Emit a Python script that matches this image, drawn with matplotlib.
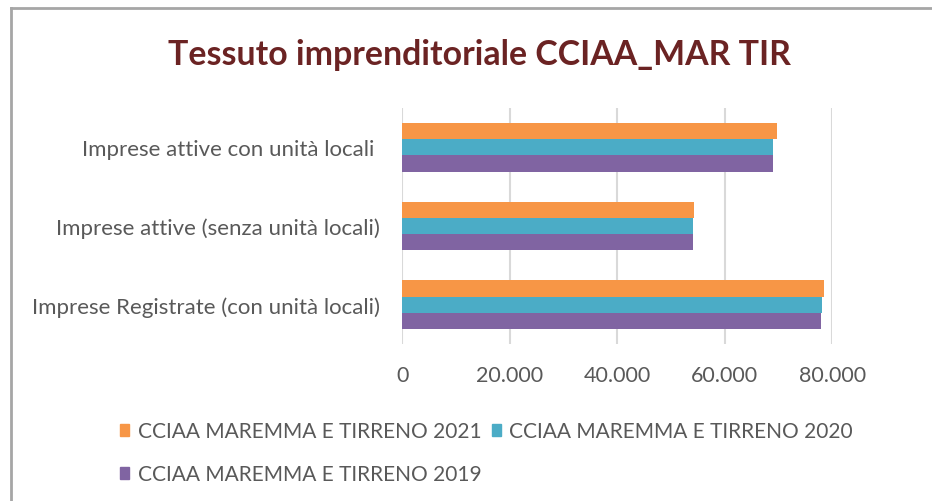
import matplotlib.pyplot as plt
import numpy as np
from matplotlib.patches import Patch
from matplotlib.lines import Line2D

# Data
categories = ["Imprese Registrate (con unità locali)",
              "Imprese attive (senza unità locali)",
              "Imprese attive con unità locali "]
v2021 = [78500, 54300, 69700]
v2020 = [78100, 54000, 69000]
v2019 = [77900, 54100, 69000]
series = ["CCIAA MAREMMA E TIRRENO 2021", "CCIAA MAREMMA E TIRRENO 2020",
          "CCIAA MAREMMA E TIRRENO 2019"]
ticks = [0, 20000, 40000, 60000, 80000]
tick_labels = ["0", "20.000", "40.000", "60.000", "80.000"]

colors = ["#F79646", "#4BACC6", "#8064A2"]
text_col = "#595959"

plt.rcParams['font.family'] = ['Lato', 'DejaVu Sans']

fig = plt.figure(figsize=(9.32, 5.02), dpi=100)
ax = fig.add_axes([402.3 / 932, 1 - 345 / 502, 430 / 932, 236 / 502])

y = np.arange(len(categories))
h = 0.207
ax.barh(y + h, v2021, height=h, color=colors[0], label=series[0], zorder=3)
ax.barh(y, v2020, height=h, color=colors[1], label=series[1], zorder=3)
ax.barh(y - h, v2019, height=h, color=colors[2], label=series[2], zorder=3)

ax.set_xlim(0, 80000)
ax.set_ylim(-0.5, 2.5)
ax.set_xticks(ticks)
ax.set_xticklabels(tick_labels)
ax.set_yticks(y)
ax.set_yticklabels(categories)
ax.grid(axis='x', color='#d9d9d9', linewidth=1.5, zorder=0)
for s in ax.spines.values():
    s.set_visible(False)
ax.tick_params(axis='x', length=0, pad=15, labelsize=15.5, labelcolor=text_col)
ax.tick_params(axis='y', length=0, pad=16, labelsize=16, labelcolor=text_col)

fig.text(0.514, 1 - 55 / 502, "Tessuto imprenditoriale CCIAA_MAR TIR",
         ha='center', va='center', fontsize=24.4, fontweight='bold', color='#6B2323')

handles = [Patch(color=c) for c in colors]
order = [0, 2, 1]
fig.legend([handles[i] for i in order], [series[i] for i in order],
           loc='upper left', bbox_to_anchor=(120 / 932, 1 - 422 / 502),
           ncol=2, frameon=False, borderpad=0, borderaxespad=0,
           handlelength=0.43, handleheight=0.5, handletextpad=0.43,
           columnspacing=0.48, labelspacing=1.12, fontsize=15,
           labelcolor=text_col)

# chart frame (left and top edges visible)
fig.add_artist(Line2D([11 / 932, 11 / 932], [0, 1 - 9 / 502], color='#a6a6a6', linewidth=2))
fig.add_artist(Line2D([11 / 932, 1], [1 - 9 / 502, 1 - 9 / 502], color='#a6a6a6', linewidth=2))

fig.savefig("out.png", dpi=100)
